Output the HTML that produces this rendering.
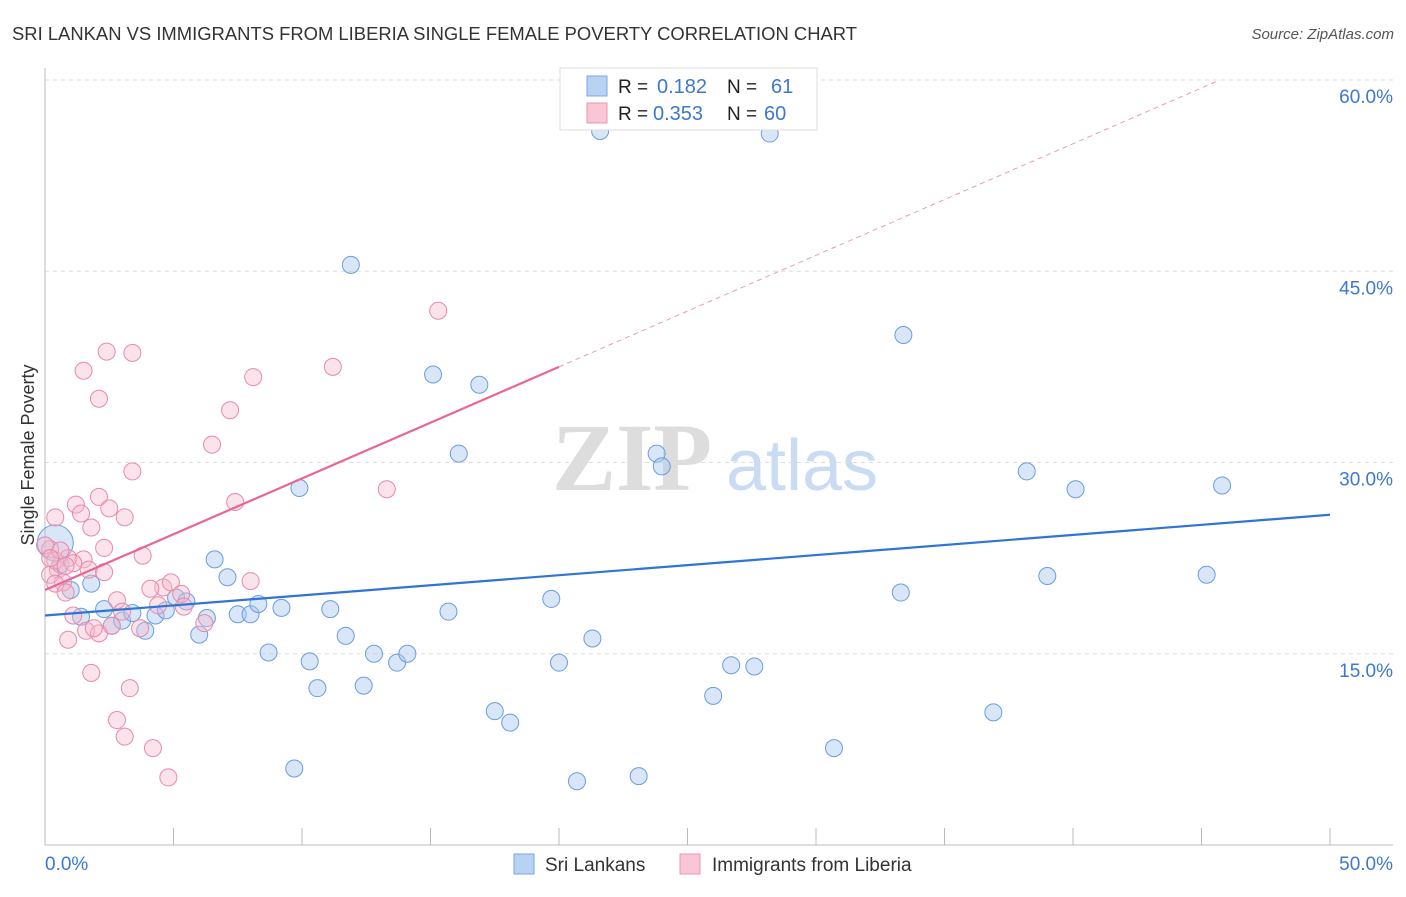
<!DOCTYPE html>
<html><head><meta charset="utf-8">
<style>
body{margin:0;background:#fff;font-family:"Liberation Sans",sans-serif;}
svg text{font-family:"Liberation Sans",sans-serif;}
</style></head>
<body>
<svg id="chart" width="1406" height="892" viewBox="0 0 1406 892">
<text x="12" y="40" font-size="18" fill="#333" textLength="845" lengthAdjust="spacingAndGlyphs">SRI LANKAN VS IMMIGRANTS FROM LIBERIA SINGLE FEMALE POVERTY CORRELATION CHART</text>
<text x="1394" y="39" font-size="15" fill="#555" font-style="italic" text-anchor="end">Source: ZipAtlas.com</text>
<g>
<text x="632" y="490" font-size="96" fill="#ddd" text-anchor="middle" font-weight="bold" style="font-family:'Liberation Serif',serif">ZIP</text>
<text x="802" y="490" font-size="72" fill="#c9dcf3" text-anchor="middle">atlas</text>
</g>
<g id="grid"></g>
<g id="axes"></g>
<g id="marks"></g>
<text transform="translate(34,455) rotate(-90)" font-size="18" fill="#333" text-anchor="middle">Single Female Poverty</text>
<g>
<rect x="560" y="68" width="257" height="62" fill="#fff" stroke="#ddd"/>
<rect x="587" y="76" width="20" height="20" fill="#b8d2f4" stroke="#7aa7e4"/>
<rect x="587" y="103" width="20" height="20" fill="#f8c6d6" stroke="#ec94b2"/>
<text x="618" y="93" font-size="19" fill="#222">R = </text><text x="657" y="93" font-size="20" fill="#3d78d0">0.182</text>
<text x="727" y="93" font-size="19" fill="#222">N = </text><text x="771" y="93" font-size="20" fill="#3d78d0">61</text>
<text x="618" y="120" font-size="19" fill="#222">R = </text><text x="653" y="120" font-size="20" fill="#3d78d0">0.353</text>
<text x="727" y="120" font-size="19" fill="#222">N = </text><text x="764" y="120" font-size="20" fill="#3d78d0">60</text>
</g>
<g>
<rect x="514" y="854" width="20" height="20" fill="#b8d2f4" stroke="#7aa7e4"/>
<text x="545" y="871" font-size="19" fill="#333">Sri Lankans</text>
<rect x="680" y="854" width="20" height="20" fill="#f8c6d6" stroke="#ec94b2"/>
<text x="712" y="871" font-size="19" fill="#333">Immigrants from Liberia</text>
</g>
</svg>
<script>
const yTicks=[15,30,45,60];
const xTickLabels=["0.0%","50.0%"];
const blueX=[21.6,28.2,11.9,33.4,15.1,16.9,16.1,23.8,24.0,9.9,38.2,40.1,45.8,6.6,7.1,39.0,45.2,0.6,1.0,1.8,2.3,1.4,2.6,3.0,3.4,3.9,4.3,4.7,5.1,5.5,6.0,6.3,7.5,8.0,8.3,9.2,11.1,11.7,8.7,10.3,10.6,12.4,12.8,13.7,14.1,15.7,19.7,21.3,20.0,33.3,26.7,27.6,26.0,17.5,18.1,36.9,30.7,9.7,20.7,23.1];
const blueY=[56.0,55.8,45.5,40.0,36.9,36.1,30.7,30.7,29.7,28.0,29.3,27.9,28.2,22.4,21.0,21.1,21.2,22.0,20.0,20.5,18.5,17.9,17.2,17.6,18.2,16.8,18.0,18.4,19.4,19.1,16.5,17.8,18.1,18.1,18.9,18.6,18.5,16.4,15.1,14.4,12.3,12.5,15.0,14.3,15.0,18.3,19.3,16.2,14.3,19.8,14.1,14.0,11.7,10.5,9.6,10.4,7.6,6.0,5.0,5.4];
const pinkX=[15.3,2.4,3.4,1.5,11.2,8.1,2.1,7.2,6.5,3.4,7.4,13.3,0.4,2.1,1.2,2.5,1.4,3.1,1.8,2.3,3.8,0.2,0.9,1.5,1.1,0.5,1.7,2.3,0.7,0.2,0.4,0.8,4.6,4.9,5.3,8.0,5.4,6.2,2.8,3.0,3.7,1.1,1.6,2.1,0.9,1.9,1.8,3.3,2.8,3.1,4.2,4.8,0.4,0.6,0.0,0.2,0.8,4.1,4.4,2.6];
const pinkY=[41.9,38.7,38.6,37.2,37.5,36.7,35.0,34.1,31.4,29.3,26.9,27.9,25.7,27.3,26.7,26.4,26.0,25.7,24.9,23.3,22.7,23.2,22.5,22.4,22.1,21.6,21.6,21.4,20.6,21.2,20.5,19.8,20.2,20.6,19.7,20.7,18.7,17.4,19.2,18.3,17.0,18.0,16.8,16.6,16.1,17.0,13.5,12.3,9.8,8.5,7.6,5.3,22.3,23.1,23.5,22.5,21.9,20.1,18.8,17.2];
const blueTrend=[18.0,25.9];   // at x=0 and x=50
const pinkTrend=[20.0,37.5];   // at x=0 and x=20
const NS='http://www.w3.org/2000/svg';
const X=v=>45+v*25.7, Y=v=>845-v*12.75;
function mk(t,a,p){const e=document.createElementNS(NS,t);for(const k in a)e.setAttribute(k,a[k]);p.appendChild(e);return e;}
const grid=document.getElementById('grid'),axes=document.getElementById('axes'),marks=document.getElementById('marks');
yTicks.forEach(t=>{
 const l=mk('line',{x1:45,x2:1393,y1:Y(t),y2:Y(t),stroke:'#ddd','stroke-dasharray':'4,4'},grid);
 
 
 const tx=mk('text',{x:1393,y:Y(t)+23,'font-size':19,fill:'#3d78d0','text-anchor':'end'},axes);
 tx.textContent=t.toFixed(1)+'%';
 
 
});
mk('line',{x1:45,x2:45,y1:68,y2:845,stroke:'#bbb'},axes);
mk('line',{x1:45,x2:1393,y1:845,y2:845,stroke:'#bbb'},axes);
for(let i=0;i<=10;i++){mk('line',{x1:X(i*5),x2:X(i*5),y1:828,y2:845,stroke:'#bbb'},axes);}
[[0,'start'],[50,'end']].forEach((d,i)=>{
 const tx=mk('text',{x:i?1393:45,y:870,'font-size':19,fill:'#3d78d0','text-anchor':d[1]},axes);
 tx.textContent=xTickLabels[i];
 
 
});
blueX.forEach((x,i)=>{
 const c=mk('circle',{cx:X(x),cy:Y(blueY[i]),r:8.5,fill:'rgba(168,200,240,0.45)',stroke:'#6a9de0','stroke-width':1},marks);
 
 
});
const big=mk('circle',{cx:X(0.4),cy:Y(23.7),r:18,fill:'rgba(168,200,240,0.45)',stroke:'#6a9de0'},marks);


pinkX.forEach((x,i)=>{
 const c=mk('circle',{cx:X(x),cy:Y(pinkY[i]),r:8.5,fill:'rgba(244,184,204,0.4)',stroke:'#e88aa8','stroke-width':1},marks);
 
 
});
const bl=mk('line',{x1:X(0),y1:Y(blueTrend[0]),x2:X(50),y2:Y(blueTrend[1]),stroke:'#2f74d6','stroke-width':2.2},marks);


const slope=(pinkTrend[1]-pinkTrend[0])/20;
const pd=mk('line',{x1:X(20),y1:Y(pinkTrend[1]),x2:X((60-pinkTrend[0])/slope),y2:Y(60),stroke:'#ec9ab5','stroke-width':1,'stroke-dasharray':'5,4'},marks);


const pl=mk('line',{x1:X(0),y1:Y(pinkTrend[0]),x2:X(20),y2:Y(pinkTrend[1]),stroke:'#e8678f','stroke-width':2.2},marks);


</script>
</body></html>
